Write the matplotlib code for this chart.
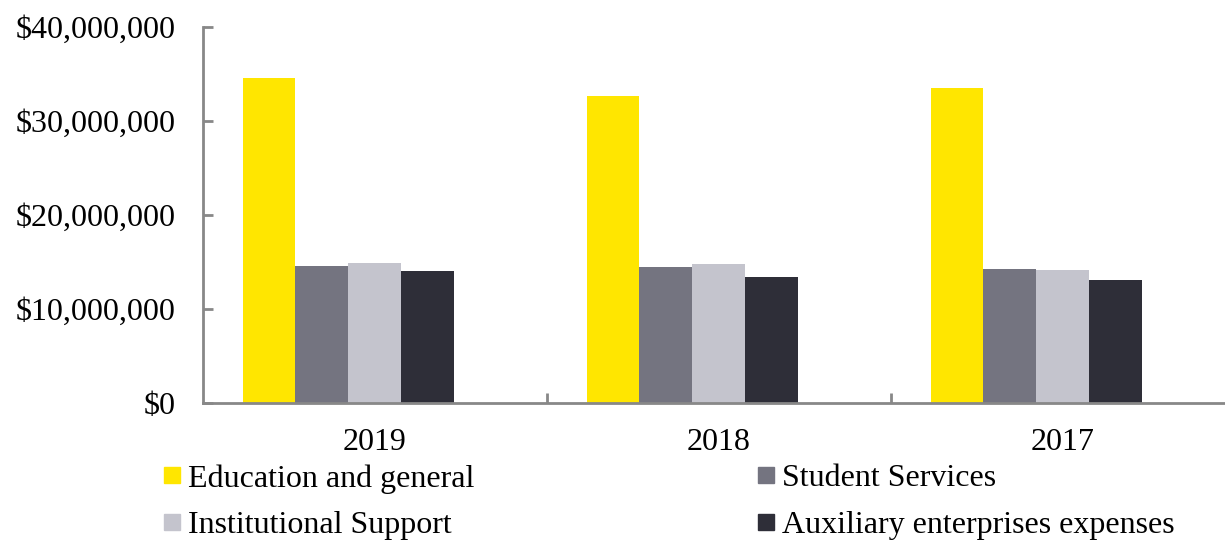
import numpy as np
import matplotlib.pyplot as plt
from matplotlib.lines import Line2D
from matplotlib.ticker import FuncFormatter

years = ['2019', '2018', '2017']
series = ['Education and general', 'Student Services',
          'Institutional Support', 'Auxiliary enterprises expenses']
education = [34.6e6, 32.7e6, 33.5e6]
student = [14.6e6, 14.45e6, 14.27e6]
institutional = [14.85e6, 14.77e6, 14.17e6]
auxiliary = [14.06e6, 13.36e6, 13.1e6]
colors = ['#FFE600', '#747480', '#C4C4CD', '#2E2E38']

plt.rcParams['font.family'] = 'Liberation Serif'
plt.rcParams['font.size'] = 23

fig = plt.figure(figsize=(12.25, 5.42), dpi=100)
ax = fig.add_axes([203/1225, 139/542, 1032/1225, 376/542])

x = np.arange(len(years))
w = 0.1535
shift = -0.078  # groups sit a bit left of the category centre
vals = [education, student, institutional, auxiliary]
for i in range(4):
    ax.bar(x + (i - 1.5)*w + shift, vals[i], w, color=colors[i], label=series[i])

ax.set_xlim(-0.5, 2.5)
ax.set_ylim(0, 40e6)
ax.set_yticks([0, 10e6, 20e6, 30e6, 40e6])
ax.yaxis.set_major_formatter(FuncFormatter(lambda v, p: '${:,.0f}'.format(v)))
ax.set_xticks(x)
ax.set_xticklabels(years)
ax.set_xticks([0.5, 1.5], minor=True)

for s in ['top', 'right']:
    ax.spines[s].set_visible(False)
for s in ['left', 'bottom']:
    ax.spines[s].set_color('#888888')
    ax.spines[s].set_linewidth(2)
ax.tick_params(axis='y', direction='in', length=7, width=2, color='#888888', pad=20)
ax.tick_params(axis='x', which='major', length=0, pad=18)
ax.tick_params(axis='x', which='minor', direction='in', length=7, width=2, color='#888888')

handles = [Line2D([], [], marker='s', linestyle='none', markersize=11,
                  markerfacecolor=c, markeredgecolor=c) for c in colors]
order = [0, 2, 1, 3]
fig.legend([handles[i] for i in order], [series[i] for i in order],
           loc='upper left', bbox_to_anchor=(162/1225, 1 - 464/542), ncol=2,
           frameon=False, borderpad=0, borderaxespad=0, handlelength=0.6,
           handletextpad=0.2, columnspacing=8.85, labelspacing=0.55)

fig.savefig('out.png', dpi=100)
